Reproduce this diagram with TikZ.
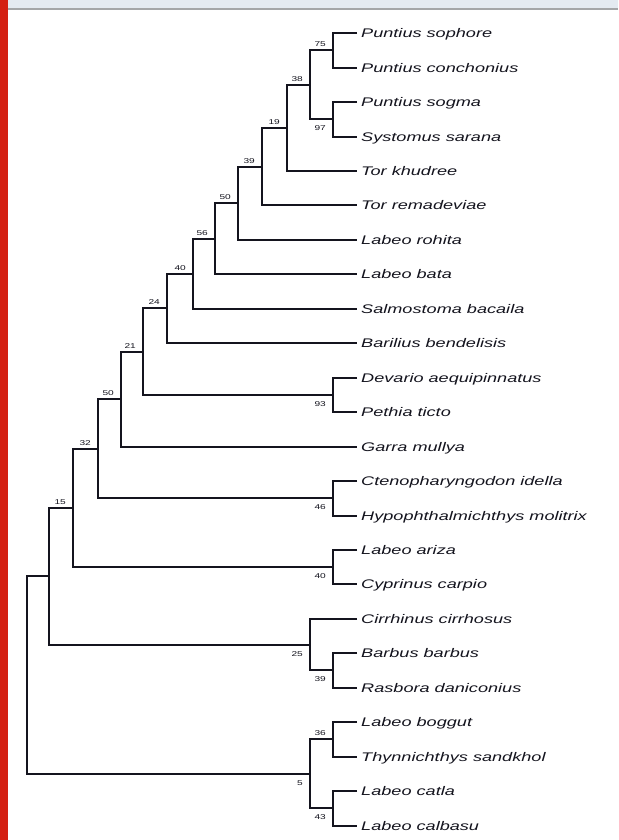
\documentclass[tikz,border=0pt]{standalone}
\usepackage{fontspec}
\newfontfamily\leaffont[FakeStretch=1.45]{Liberation Sans}
\definecolor{hdr}{HTML}{E4EAF1}
\definecolor{hdrline}{HTML}{A4A6A8}
\definecolor{redbar}{HTML}{D42012}
\definecolor{ink}{HTML}{14141E}
\begin{document}
\begin{tikzpicture}[x=1pt,y=-1pt,
  br/.style={line width=1.6pt, ink},
  leaf/.style={anchor=west, inner xsep=4pt, inner ysep=0pt, text height=9pt, text depth=0pt, text=ink,
    font=\leaffont\itshape\fontsize{12.5}{14}\selectfont},
  bsa/.style={anchor=south east, inner sep=0pt, xshift=-7pt, yshift=3pt, text=ink,
    font=\leaffont\fontsize{7}{8}\selectfont},
  bsb/.style={anchor=north east, inner sep=0pt, xshift=-7pt, yshift=-6pt, text=ink,
    font=\leaffont\fontsize{7}{8}\selectfont}]
\useasboundingbox (0,0) rectangle (618,840);
\fill[white] (0,0) rectangle (618,840);
\fill[hdr] (0,0) rectangle (618,8.5);
\fill[hdrline] (0,8.5) rectangle (618,10);
\fill[redbar] (0,0) rectangle (8,840);
% leaves
\node[leaf] (L1) at (357,33) {Puntius sophore};
\node[leaf] (L2) at (357,68) {Puntius conchonius};
\node[leaf] (L3) at (357,102) {Puntius sogma};
\node[leaf] (L4) at (357,137) {Systomus sarana};
\node[leaf] (L5) at (357,171) {Tor khudree};
\node[leaf] (L6) at (357,205) {Tor remadeviae};
\node[leaf] (L7) at (357,240) {Labeo rohita};
\node[leaf] (L8) at (357,274) {Labeo bata};
\node[leaf] (L9) at (357,309) {Salmostoma bacaila};
\node[leaf] (L10) at (357,343) {Barilius bendelisis};
\node[leaf] (L11) at (357,378) {Devario aequipinnatus};
\node[leaf] (L12) at (357,412) {Pethia ticto};
\node[leaf] (L13) at (357,447) {Garra mullya};
\node[leaf] (L14) at (357,481) {Ctenopharyngodon idella};
\node[leaf] (L15) at (357,516) {Hypophthalmichthys molitrix};
\node[leaf] (L16) at (357,550) {Labeo ariza};
\node[leaf] (L17) at (357,584) {Cyprinus carpio};
\node[leaf] (L18) at (357,619) {Cirrhinus cirrhosus};
\node[leaf] (L19) at (357,653) {Barbus barbus};
\node[leaf] (L20) at (357,688) {Rasbora daniconius};
\node[leaf] (L21) at (357,722) {Labeo boggut};
\node[leaf] (L22) at (357,757) {Thynnichthys sandkhol};
\node[leaf] (L23) at (357,791) {Labeo catla};
\node[leaf] (L24) at (357,826) {Labeo calbasu};
% internal nodes
\coordinate (A) at (333,50);
\coordinate (B) at (333,119);
\coordinate (C) at (310,85);
\coordinate (D) at (287,128);
\coordinate (E) at (262,167);
\coordinate (F) at (238,203);
\coordinate (G) at (215,239);
\coordinate (H) at (193,274);
\coordinate (I) at (167,308);
\coordinate (J) at (333,395);
\coordinate (K) at (143,352);
\coordinate (M) at (121,399);
\coordinate (N) at (333,498);
\coordinate (O) at (98,449);
\coordinate (P) at (333,567);
\coordinate (Q) at (73,508);
\coordinate (R) at (333,670);
\coordinate (S) at (310,645);
\coordinate (T) at (49,576);
\coordinate (U) at (333,739);
\coordinate (V) at (333,808);
\coordinate (W) at (310,774);
\coordinate (Rt) at (27,675);
% branches
\draw[br] (L1.west) -| (A) |- (L2.west);
\draw[br] (L3.west) -| (B) |- (L4.west);
\draw[br] (A) -| (C) |- (B);
\draw[br] (C) -| (D) |- (L5.west);
\draw[br] (D) -| (E) |- (L6.west);
\draw[br] (E) -| (F) |- (L7.west);
\draw[br] (F) -| (G) |- (L8.west);
\draw[br] (G) -| (H) |- (L9.west);
\draw[br] (H) -| (I) |- (L10.west);
\draw[br] (L11.west) -| (J) |- (L12.west);
\draw[br] (I) -| (K) |- (J);
\draw[br] (K) -| (M) |- (L13.west);
\draw[br] (L14.west) -| (N) |- (L15.west);
\draw[br] (M) -| (O) |- (N);
\draw[br] (L16.west) -| (P) |- (L17.west);
\draw[br] (O) -| (Q) |- (P);
\draw[br] (L19.west) -| (R) |- (L20.west);
\draw[br] (L18.west) -| (S) |- (R);
\draw[br] (Q) -| (T) |- (S);
\draw[br] (L21.west) -| (U) |- (L22.west);
\draw[br] (L23.west) -| (V) |- (L24.west);
\draw[br] (U) -| (W) |- (V);
\draw[br] (T) -| (Rt) |- (W);
% bootstrap labels
\node[bsa] (bA) at (A) {75};
\node[bsb] (bB) at (B) {97};
\node[bsa] (bC) at (C) {38};
\node[bsa] (bD) at (D) {19};
\node[bsa] (bE) at (E) {39};
\node[bsa] (bF) at (F) {50};
\node[bsa] (bG) at (G) {56};
\node[bsa] (bH) at (H) {40};
\node[bsa] (bI) at (I) {24};
\node[bsb] (bJ) at (J) {93};
\node[bsa] (bK) at (K) {21};
\node[bsa] (bM) at (M) {50};
\node[bsb] (bN) at (N) {46};
\node[bsa] (bO) at (O) {32};
\node[bsb] (bP) at (P) {40};
\node[bsa] (bQ) at (Q) {15};
\node[bsb] (bR) at (R) {39};
\node[bsb] (bS) at (S) {25};
\node[bsa] (bU) at (U) {36};
\node[bsb] (bV) at (V) {43};
\node[bsb] (bW) at (W) {5};
\end{tikzpicture}
\end{document}
